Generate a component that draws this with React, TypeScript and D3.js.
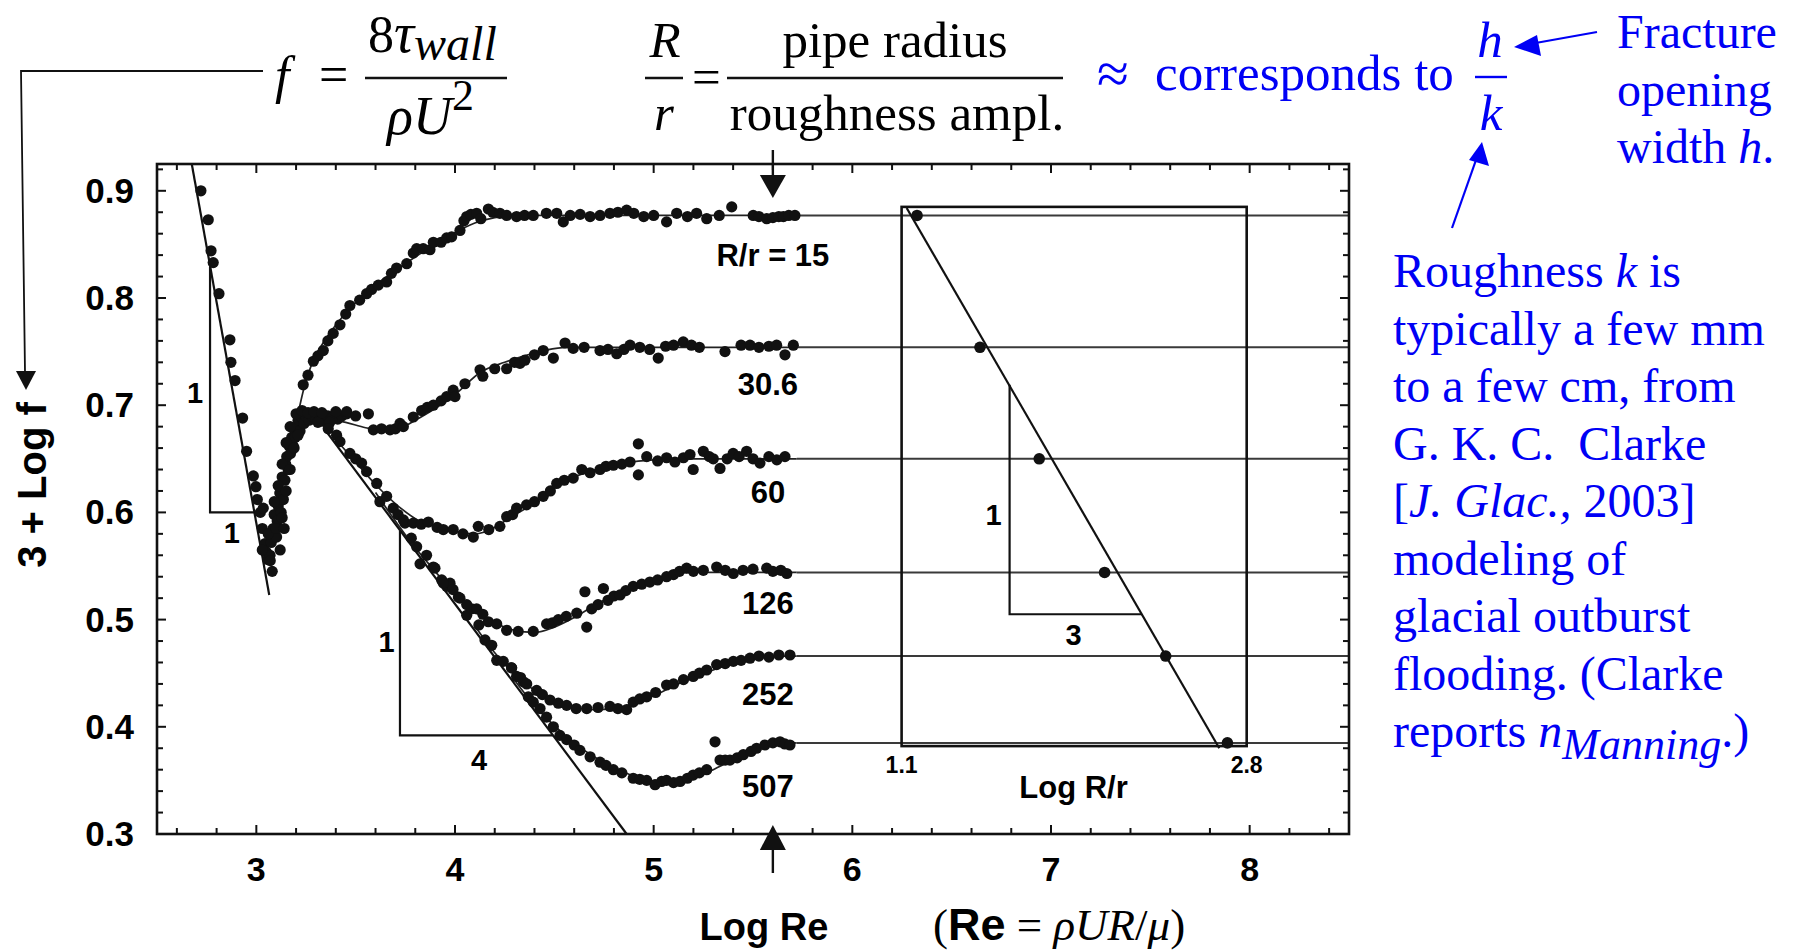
import React from "react";
import * as d3 from "d3";

// Nikuradse rough pipe friction data.
// x = Log Re, y = 3 + Log f
const xTicks = [3, 4, 5, 6, 7, 8];
const yTicks = [0.3, 0.4, 0.5, 0.6, 0.7, 0.8, 0.9];
const curveLabels = ["R/r = 15", "30.6", "60", "126", "252", "507"];
const plateaus = [0.877, 0.754, 0.65, 0.544, 0.466, 0.385];
const logRr = [1.176, 1.486, 1.778, 2.1, 2.401, 2.705];
const insetTickLabels = [1.1, 2.8];
const plateauStart = 5.72;

// straight reference lines and slope triangles
const laminarLine = [[2.675, 0.925], [3.065, 0.523]];
const blasiusLine = [[3.35, 0.676], [4.864, 0.3]];
const laminarTri = [[2.767, 0.829], [2.767, 0.6], [2.99, 0.6]];
const blasiusTri = [[3.723, 0.583], [3.723, 0.392], [4.494, 0.392]];
const insetLine = [[1.125, 0.884], [2.665, 0.38]];
const insetTri = [[1.632, 0.719], [1.632, 0.505], [2.284, 0.505]];

// smooth fits per R/r
const fit15 = [[3.21, 0.692], [3.24, 0.716], [3.28, 0.739], [3.35, 0.762], [3.47, 0.79], [3.6, 0.812], [3.75, 0.832], [3.96, 0.857], [4.1, 0.87], [4.2, 0.875], [4.3, 0.877], [4.5, 0.877], [5.72, 0.877]];
const fit30 = [[3.35, 0.688], [3.45, 0.684], [3.55, 0.679], [3.65, 0.676], [3.72, 0.678], [3.8, 0.686], [3.9, 0.697], [4.0, 0.71], [4.13, 0.731], [4.25, 0.74], [4.35, 0.746], [4.45, 0.751], [4.56, 0.754], [5.72, 0.754]];
const fit60 = [[3.4, 0.668], [3.5, 0.647], [3.6, 0.626], [3.72, 0.605], [3.82, 0.592], [3.94, 0.585], [4.1, 0.58], [4.2, 0.586], [4.26, 0.593], [4.4, 0.609], [4.51, 0.624], [4.6, 0.633], [4.73, 0.641], [4.85, 0.646], [5.0, 0.649], [5.2, 0.65], [5.72, 0.65]];
const fit126 = [[3.6, 0.6185], [3.8, 0.567], [3.9, 0.545], [4.0, 0.523], [4.1, 0.508], [4.2, 0.497], [4.3, 0.49], [4.4, 0.488], [4.5, 0.493], [4.6, 0.502], [4.7, 0.513], [4.8, 0.523], [4.9, 0.531], [5.0, 0.538], [5.1, 0.543], [5.2, 0.544], [5.72, 0.544]];
const fit252 = [[4.1, 0.494], [4.2, 0.469], [4.3, 0.449], [4.4, 0.434], [4.5, 0.423], [4.6, 0.418], [4.7, 0.416], [4.8, 0.417], [4.9, 0.422], [5.0, 0.429], [5.1, 0.438], [5.2, 0.446], [5.3, 0.453], [5.4, 0.459], [5.5, 0.463], [5.6, 0.466], [5.72, 0.466]];
const fit507 = [[4.3, 0.4435], [4.4, 0.42], [4.5, 0.401], [4.6, 0.385], [4.7, 0.372], [4.8, 0.362], [4.9, 0.354], [5.0, 0.349], [5.1, 0.348], [5.2, 0.352], [5.3, 0.36], [5.4, 0.369], [5.5, 0.377], [5.6, 0.383], [5.72, 0.385]];

// measured points
const laminarDots = [[2.721, 0.9], [2.758, 0.873], [2.772, 0.844], [2.783, 0.833], [2.812, 0.804], [2.867, 0.761], [2.872, 0.74], [2.893, 0.723], [2.931, 0.688], [2.951, 0.657], [2.985, 0.634], [2.998, 0.624], [3.005, 0.612]];
const transitionDots = [[3.02, 0.6], [3.035, 0.604], [3.03, 0.585], [3.044, 0.571], [3.05, 0.563], [3.058, 0.556], [3.069, 0.56], [3.075, 0.572], [3.085, 0.585], [3.09, 0.598], [3.102, 0.577], [3.105, 0.592], [3.11, 0.606], [3.118, 0.618], [3.125, 0.6], [3.13, 0.633], [3.136, 0.612], [3.144, 0.63], [3.148, 0.645], [3.153, 0.652], [3.16, 0.64], [3.165, 0.662], [3.172, 0.655], [3.178, 0.67], [3.185, 0.662], [3.19, 0.678], [3.196, 0.67], [3.203, 0.68], [3.21, 0.686], [3.22, 0.676], [3.228, 0.689], [3.24, 0.683], [3.25, 0.69], [3.265, 0.686], [3.28, 0.69], [3.3, 0.687], [3.32, 0.689], [3.34, 0.685], [3.36, 0.69], [3.387, 0.689], [3.41, 0.687], [3.43, 0.69], [3.455, 0.692],
  [3.03, 0.565], [3.07, 0.555], [3.06, 0.58], [3.1, 0.585], [3.09, 0.61], [3.13, 0.595], [3.11, 0.625], [3.15, 0.62], [3.13, 0.645], [3.17, 0.64], [3.15, 0.665], [3.19, 0.66], [3.17, 0.68], [3.21, 0.672], [3.2, 0.692], [3.23, 0.695], [3.26, 0.693], [3.29, 0.694], [3.31, 0.684], [3.33, 0.693], [3.37, 0.684], [3.4, 0.694], [3.08, 0.545], [3.12, 0.565], [3.14, 0.585]];
const smoothDots = [[3.362, 0.678], [3.404, 0.672], [3.421, 0.666], [3.471, 0.655], [3.5, 0.65], [3.53, 0.646], [3.555, 0.638], [3.606, 0.627], [3.622, 0.61], [3.656, 0.615], [3.689, 0.604], [3.713, 0.598], [3.748, 0.59], [3.78, 0.576], [3.807, 0.568], [3.824, 0.552], [3.857, 0.56], [3.891, 0.549], [3.933, 0.537], [3.958, 0.531], [3.975, 0.534], [4.017, 0.521], [4.059, 0.504], [4.084, 0.51], [4.12, 0.495], [4.151, 0.481], [4.185, 0.476], [4.21, 0.462], [4.243, 0.461], [4.285, 0.455], [4.31, 0.447], [4.344, 0.442], [4.369, 0.428], [4.394, 0.423], [4.428, 0.417], [4.461, 0.409], [4.495, 0.4], [4.528, 0.392]];
const dots15 = [[3.236, 0.719], [3.26, 0.728], [3.287, 0.741], [3.31, 0.746], [3.337, 0.751], [3.36, 0.76], [3.387, 0.767], [3.421, 0.775], [3.45, 0.785], [3.471, 0.793], [3.52, 0.798], [3.555, 0.804], [3.58, 0.808], [3.614, 0.812], [3.656, 0.815], [3.68, 0.823], [3.706, 0.828], [3.757, 0.832], [3.79, 0.842], [3.807, 0.846], [3.84, 0.846], [3.874, 0.845], [3.891, 0.852], [3.93, 0.852], [3.958, 0.856], [3.983, 0.857], [4.025, 0.863], [4.045, 0.872], [4.059, 0.876], [4.08, 0.878], [4.109, 0.879], [4.13, 0.874], [4.168, 0.883], [4.19, 0.88], [4.226, 0.879], [4.26, 0.877], [4.31, 0.876], [4.35, 0.877], [4.394, 0.877], [4.46, 0.879], [4.512, 0.879], [4.545, 0.871], [4.58, 0.877], [4.63, 0.878], [4.68, 0.876], [4.73, 0.877], [4.78, 0.879], [4.82, 0.88], [4.864, 0.882], [4.9, 0.879], [4.95, 0.876], [5.0, 0.877], [5.065, 0.871], [5.116, 0.879], [5.17, 0.876], [5.216, 0.879], [5.267, 0.874], [5.33, 0.877], [5.393, 0.885], [5.501, 0.877], [5.53, 0.876], [5.569, 0.874], [5.6, 0.875], [5.63, 0.876], [5.653, 0.876], [5.68, 0.877], [5.711, 0.877]];
const dots30 = [[3.455, 0.694], [3.5, 0.69], [3.564, 0.692], [3.589, 0.677], [3.63, 0.678], [3.673, 0.677], [3.7, 0.678], [3.723, 0.683], [3.74, 0.68], [3.79, 0.689], [3.832, 0.695], [3.86, 0.698], [3.891, 0.7], [3.93, 0.704], [3.958, 0.708], [3.991, 0.714], [4.0, 0.708], [4.05, 0.72], [4.126, 0.733], [4.14, 0.727], [4.2, 0.734], [4.26, 0.734], [4.3, 0.74], [4.327, 0.739], [4.352, 0.742], [4.4, 0.747], [4.444, 0.751], [4.495, 0.744], [4.554, 0.758], [4.595, 0.753], [4.65, 0.754], [4.73, 0.751], [4.77, 0.752], [4.814, 0.748], [4.85, 0.752], [4.881, 0.756], [4.93, 0.754], [4.98, 0.752], [5.023, 0.744], [5.06, 0.755], [5.1, 0.756], [5.149, 0.759], [5.19, 0.756], [5.23, 0.754], [5.359, 0.75], [5.44, 0.756], [5.485, 0.756], [5.53, 0.754], [5.58, 0.755], [5.619, 0.756], [5.661, 0.747], [5.703, 0.756]];
const dots60 = [[3.74, 0.593], [3.79, 0.59], [3.83, 0.589], [3.866, 0.591], [3.91, 0.586], [3.941, 0.584], [3.991, 0.584], [4.04, 0.58], [4.092, 0.577], [4.117, 0.587], [4.17, 0.584], [4.226, 0.587], [4.26, 0.596], [4.29, 0.598], [4.31, 0.604], [4.36, 0.607], [4.4, 0.61], [4.444, 0.615], [4.48, 0.62], [4.512, 0.627], [4.55, 0.63], [4.595, 0.632], [4.638, 0.64], [4.68, 0.637], [4.73, 0.64], [4.76, 0.643], [4.797, 0.644], [4.84, 0.645], [4.881, 0.647], [4.923, 0.664], [4.923, 0.635], [4.965, 0.652], [5.02, 0.648], [5.065, 0.651], [5.107, 0.647], [5.15, 0.651], [5.183, 0.654], [5.199, 0.64], [5.25, 0.657], [5.28, 0.652], [5.3, 0.65], [5.334, 0.641], [5.37, 0.65], [5.4, 0.655], [5.43, 0.652], [5.468, 0.657], [5.5, 0.65], [5.535, 0.646], [5.58, 0.652], [5.62, 0.649], [5.661, 0.652]];
const dots126 = [[3.899, 0.548], [3.941, 0.534], [3.99, 0.528], [4.025, 0.52], [4.059, 0.514], [4.109, 0.51], [4.14, 0.505], [4.168, 0.498], [4.21, 0.496], [4.26, 0.49], [4.318, 0.489], [4.394, 0.489], [4.461, 0.496], [4.49, 0.497], [4.52, 0.5], [4.56, 0.503], [4.613, 0.506], [4.654, 0.526], [4.663, 0.493], [4.688, 0.51], [4.72, 0.514], [4.747, 0.529], [4.77, 0.518], [4.8, 0.522], [4.831, 0.523], [4.86, 0.527], [4.897, 0.531], [4.94, 0.533], [4.981, 0.535], [5.02, 0.537], [5.065, 0.54], [5.1, 0.542], [5.13, 0.545], [5.166, 0.548], [5.2, 0.545], [5.25, 0.546], [5.317, 0.549], [5.36, 0.546], [5.401, 0.543], [5.45, 0.546], [5.5, 0.547], [5.569, 0.548], [5.6, 0.545], [5.64, 0.546], [5.67, 0.543]];
const dots252 = [[4.285, 0.455], [4.33, 0.446], [4.361, 0.44], [4.411, 0.434], [4.44, 0.43], [4.478, 0.425], [4.52, 0.422], [4.562, 0.42], [4.61, 0.417], [4.663, 0.417], [4.72, 0.418], [4.78, 0.419], [4.82, 0.417], [4.864, 0.416], [4.897, 0.423], [4.93, 0.426], [4.965, 0.428], [5.01, 0.432], [5.065, 0.439], [5.1, 0.44], [5.15, 0.444], [5.199, 0.447], [5.23, 0.45], [5.267, 0.453], [5.317, 0.458], [5.36, 0.459], [5.401, 0.461], [5.44, 0.462], [5.485, 0.464], [5.53, 0.466], [5.58, 0.465], [5.63, 0.467], [5.686, 0.467]];
const dots507 = [[4.562, 0.388], [4.6, 0.383], [4.629, 0.378], [4.68, 0.372], [4.73, 0.367], [4.76, 0.364], [4.797, 0.36], [4.84, 0.357], [4.897, 0.352], [4.93, 0.351], [4.965, 0.35], [5.007, 0.346], [5.04, 0.349], [5.065, 0.35], [5.1, 0.348], [5.133, 0.349], [5.17, 0.352], [5.199, 0.355], [5.23, 0.357], [5.267, 0.36], [5.309, 0.386], [5.334, 0.369], [5.36, 0.369], [5.384, 0.369], [5.42, 0.371], [5.451, 0.374], [5.49, 0.377], [5.518, 0.38], [5.56, 0.383], [5.6, 0.385], [5.636, 0.386], [5.66, 0.384], [5.686, 0.383]];

const fits = [fit15, fit30, fit60, fit126, fit252, fit507];
const allDots = [laminarDots, transitionDots, smoothDots, dots15, dots30, dots60, dots126, dots252, dots507].flat();

// layout
const labelDy = [51, 48, 44, 42, 49, 54];
const SANS = "'Liberation Sans', Arial, sans-serif";
const SERIF = "'Liberation Serif', 'Times New Roman', serif";
const BLUE = "#0000f5";

export default function App() {
  const x = d3.scaleLinear().domain([2.5, 8.5]).range([157, 1349]);
  const y = d3.scaleLinear().domain([0.3, 0.925]).range([834, 164]);
  const xi = d3.scaleLinear().domain([1.1, 2.8]).range([x(6.248), x(7.985)]);

  const line = d3.line<number[]>().x(d => x(d[0])).y(d => y(d[1]));
  const fitLine = d3.line<number[]>().x(d => x(d[0])).y(d => y(d[1])).curve(d3.curveMonotoneX);
  const insetPath = d3.line<number[]>().x(d => xi(d[0])).y(d => y(d[1]));

  const [x0, x1] = x.range();
  const [yb, yt] = y.range();
  const xMinor = d3.range(26, 85, 2).map(v => v / 10);
  const yMinor = d3.range(30, 93, 2).map(v => v / 100);
  const isMajorX = (v: number) => Math.abs(v - Math.round(v)) < 1e-6;
  const isMajorY = (v: number) => Math.abs(v * 10 - Math.round(v * 10)) < 1e-6;

  const ax = x(5.6);

  return (
    <svg width={1796} height={950} style={{ position: "absolute", left: 0, top: 0, background: "#fff" }}>
      <rect width={1796} height={950} fill="#fff" />

      {/* plateau lines running to the right edge */}
      {plateaus.map((p, i) => (
        <line key={"pl" + i} x1={x(plateauStart)} x2={x1} y1={y(p)} y2={y(p)} stroke="#3a3a3a" strokeWidth={2} />
      ))}

      {/* fitted curves */}
      {fits.map((f, i) => (
        <path key={"fit" + i} d={fitLine(f) || ""} fill="none" stroke="#222" strokeWidth={1.7} />
      ))}

      {/* laminar & smooth-pipe lines */}
      <path d={line(laminarLine) || ""} stroke="#111" strokeWidth={2.2} fill="none" />
      <path d={line(blasiusLine) || ""} stroke="#111" strokeWidth={2.2} fill="none" />
      <path d={line(laminarTri) || ""} stroke="#111" strokeWidth={2.2} fill="none" />
      <path d={line(blasiusTri) || ""} stroke="#111" strokeWidth={2.2} fill="none" />

      {/* data points */}
      {allDots.map((d, i) => (
        <circle key={"d" + i} cx={x(d[0])} cy={y(d[1])} r={5.6} fill="#111" />
      ))}

      {/* inset */}
      <rect x={xi(1.1)} y={y(0.885)} width={xi(2.8) - xi(1.1)} height={y(0.382) - y(0.885)} fill="none" stroke="#111" strokeWidth={2.6} />
      <path d={insetPath(insetLine) || ""} stroke="#111" strokeWidth={2.2} fill="none" />
      <path d={insetPath(insetTri) || ""} stroke="#111" strokeWidth={2.2} fill="none" />
      {logRr.map((v, i) => (
        <circle key={"in" + i} cx={xi(v)} cy={y(plateaus[i])} r={5.8} fill="#111" />
      ))}
      {insetTickLabels.map(v => (
        <text key={"it" + v} x={xi(v)} y={773} textAnchor="middle" fontFamily={SANS} fontWeight="bold" fontSize={23}>{v.toFixed(1)}</text>
      ))}
      <text x={xi(1.947)} y={798} textAnchor="middle" fontFamily={SANS} fontWeight="bold" fontSize={31}>Log R/r</text>
      <text x={xi(1.553)} y={y(0.598) + 10} textAnchor="middle" fontFamily={SANS} fontWeight="bold" fontSize={29}>1</text>
      <text x={xi(1.947)} y={y(0.486) + 10} textAnchor="middle" fontFamily={SANS} fontWeight="bold" fontSize={29}>3</text>

      {/* triangle labels */}
      <text x={x(2.691)} y={y(0.711) + 10} textAnchor="middle" fontFamily={SANS} fontWeight="bold" fontSize={29}>1</text>
      <text x={x(2.877)} y={y(0.581) + 10} textAnchor="middle" fontFamily={SANS} fontWeight="bold" fontSize={29}>1</text>
      <text x={x(3.656)} y={y(0.479) + 10} textAnchor="middle" fontFamily={SANS} fontWeight="bold" fontSize={29}>1</text>
      <text x={x(4.121)} y={y(0.369) + 10} textAnchor="middle" fontFamily={SANS} fontWeight="bold" fontSize={29}>4</text>

      {/* curve labels */}
      {curveLabels.map((t, i) => (
        <text key={"cl" + i} x={x(5.575) + (i === 0 ? 5 : 0)} y={y(plateaus[i]) + labelDy[i]} textAnchor="middle" fontFamily={SANS} fontWeight="bold" fontSize={31}>{t}</text>
      ))}

      {/* frame and ticks */}
      <rect x={x0} y={yt} width={x1 - x0} height={yb - yt} fill="none" stroke="#111" strokeWidth={2.6} />
      {xMinor.map(v => {
        const len = isMajorX(v) ? 9 : 6;
        return (
          <g key={"xt" + v}>
            <line x1={x(v)} x2={x(v)} y1={yb} y2={yb - len} stroke="#111" strokeWidth={2} />
            <line x1={x(v)} x2={x(v)} y1={yt} y2={yt + len} stroke="#111" strokeWidth={2} />
          </g>
        );
      })}
      {yMinor.map(v => {
        const len = isMajorY(v) ? 9 : 6;
        return (
          <g key={"yt" + v}>
            <line x1={x0} x2={x0 + len} y1={y(v)} y2={y(v)} stroke="#111" strokeWidth={2} />
            <line x1={x1} x2={x1 - len} y1={y(v)} y2={y(v)} stroke="#111" strokeWidth={2} />
          </g>
        );
      })}
      {xTicks.map(v => (
        <text key={"xl" + v} x={x(v)} y={881} textAnchor="middle" fontFamily={SANS} fontWeight="bold" fontSize={34}>{v}</text>
      ))}
      {yTicks.map(v => (
        <text key={"yl" + v} x={134} y={y(v) + 12} textAnchor="end" fontFamily={SANS} fontWeight="bold" fontSize={35}>{v.toFixed(1)}</text>
      ))}

      {/* axis titles */}
      <text x={764} y={940} textAnchor="middle" fontFamily={SANS} fontWeight="bold" fontSize={38}>Log Re</text>
      <text transform="translate(46,485) rotate(-90)" textAnchor="middle" fontFamily={SANS} fontWeight="bold" fontSize={40}>3 + Log f</text>
      <text x={933} y={940} fontFamily={SERIF} fontSize={45}>
        <tspan>(</tspan>
        <tspan fontFamily={SANS} fontWeight="bold">Re</tspan>
        <tspan> = </tspan>
        <tspan fontStyle="italic">ρUR</tspan>
        <tspan>/</tspan>
        <tspan fontStyle="italic">μ</tspan>
        <tspan>)</tspan>
      </text>

      {/* arrows at Log Re = 5.6 */}
      <line x1={ax} x2={ax} y1={150} y2={178} stroke="#111" strokeWidth={2.4} />
      <path d={`M${ax - 13},175 L${ax + 13},175 L${ax},198 Z`} fill="#111" />
      <line x1={ax} x2={ax} y1={848} y2={873} stroke="#111" strokeWidth={2.4} />
      <path d={`M${ax - 13},850 L${ax + 13},850 L${ax},825 Z`} fill="#111" />

      {/* leader arrow to the y axis title */}
      <polyline points="263,71 21,71 25,372" fill="none" stroke="#111" strokeWidth={1.8} />
      <path d="M16,371 L36,371 L26,390 Z" fill="#111" />

      {/* definition of f */}
      <text x={275} y={93} fontFamily={SERIF} fontStyle="italic" fontSize={52}>f</text>
      <text x={319} y={92} fontFamily={SERIF} fontSize={52}>=</text>
      <line x1={365} x2={507} y1={78} y2={78} stroke="#111" strokeWidth={2.4} />
      <text x={368} y={52} fontFamily={SERIF} fontSize={52}>
        <tspan>8</tspan>
        <tspan fontStyle="italic" fontSize={56}>τ</tspan>
        <tspan fontStyle="italic" fontSize={48} dy={8}>wall</tspan>
      </text>
      <text x={387} y={134} fontFamily={SERIF} fontSize={54}>
        <tspan fontStyle="italic">ρU</tspan>
        <tspan fontSize={44} dy={-24}>2</tspan>
      </text>

      {/* definition of R/r */}
      <text x={665} y={57} textAnchor="middle" fontFamily={SERIF} fontStyle="italic" fontSize={51}>R</text>
      <line x1={645} x2={683} y1={78} y2={78} stroke="#111" strokeWidth={2.4} />
      <text x={664} y={130} textAnchor="middle" fontFamily={SERIF} fontStyle="italic" fontSize={51}>r</text>
      <text x={692} y={94} fontFamily={SERIF} fontSize={51}>=</text>
      <line x1={727} x2={1063} y1={78} y2={78} stroke="#111" strokeWidth={2.4} />
      <text x={895} y={57} textAnchor="middle" fontFamily={SERIF} fontSize={51}>pipe radius</text>
      <text x={897} y={130} textAnchor="middle" fontFamily={SERIF} fontSize={51}>roughness ampl.</text>

      {/* blue annotations */}
      <text x={1097} y={93} fontFamily={SERIF} fontSize={58} fill={BLUE}>≈</text>
      <text x={1155} y={90} fontFamily={SERIF} fontSize={51} fill={BLUE}>corresponds to</text>
      <text x={1490} y={57} textAnchor="middle" fontFamily={SERIF} fontStyle="italic" fontSize={51} fill={BLUE}>h</text>
      <line x1={1475} x2={1507} y1={77} y2={77} stroke={BLUE} strokeWidth={2.4} />
      <text x={1491} y={130} textAnchor="middle" fontFamily={SERIF} fontStyle="italic" fontSize={51} fill={BLUE}>k</text>

      <line x1={1597} y1={32} x2={1530} y2={44} stroke={BLUE} strokeWidth={2.2} />
      <path d="M1514,47 L1537,35 L1541,56 Z" fill={BLUE} />
      <line x1={1452} y1={228} x2={1476} y2={160} stroke={BLUE} strokeWidth={2.2} />
      <path d="M1482,142 L1489,166 L1469,160 Z" fill={BLUE} />

      <g fontFamily={SERIF} fontSize={48} fill={BLUE}>
        <text x={1617} y={48}>Fracture</text>
        <text x={1617} y={106}>opening</text>
        <text x={1617} y={163}>width <tspan fontStyle="italic">h</tspan>.</text>

        <text x={1393} y={287}>Roughness <tspan fontStyle="italic">k</tspan> is</text>
        <text x={1393} y={344.5}>typically a few mm</text>
        <text x={1393} y={402}>to a few cm, from</text>
        <text x={1393} y={459.5} style={{ whiteSpace: "pre" }}>G. K. C.  Clarke</text>
        <text x={1393} y={517}>[<tspan fontStyle="italic">J. Glac.,</tspan> 2003]</text>
        <text x={1393} y={574.5}>modeling of</text>
        <text x={1393} y={632}>glacial outburst</text>
        <text x={1393} y={689.5}>flooding. (Clarke</text>
        <text x={1393} y={747}>
          reports <tspan fontStyle="italic">n</tspan>
          <tspan fontStyle="italic" fontSize={44} dy={12}>Manning</tspan>
          <tspan dy={-12}>.)</tspan>
        </text>
      </g>
    </svg>
  );
}
